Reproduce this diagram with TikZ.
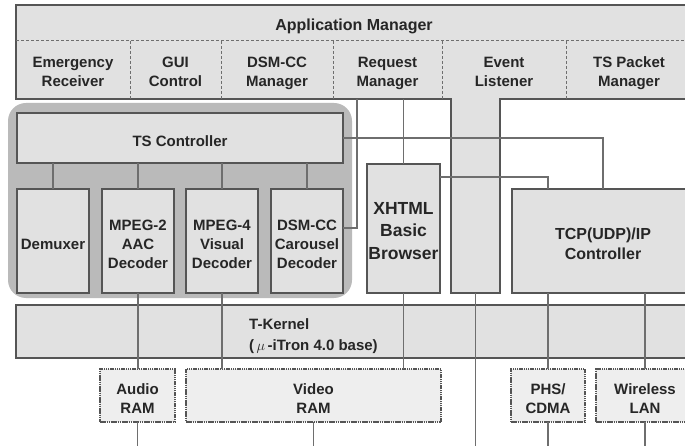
\documentclass[tikz,border=0pt]{standalone}
\usepackage{fontspec}
\setmainfont{Liberation Sans}

\definecolor{panelgray}{HTML}{E1E1E1}
\definecolor{groupgray}{HTML}{BABABA}
\definecolor{ramgray}{HTML}{EEEEEE}
\definecolor{edgegray}{HTML}{555555}
\definecolor{wiregray}{HTML}{6E6E6E}

\newcommand{\boxstrut}{\rule{0pt}{20pt}}

\begin{document}
\begin{tikzpicture}[
    x=1pt, y=-1pt,
    font=\fontsize{15}{19}\selectfont\bfseries,
    lowtext/.style={execute at end node={\vphantom{g}}},
    box/.style={draw=edgegray, line width=1.5pt, fill=panelgray, inner sep=0pt, outer sep=0pt, align=center, text=black!85, lowtext},
    ram/.style={box, fill=ramgray, dash pattern=on 1.5pt off 0.7pt},
    cell/.style={inner sep=0pt, align=center, text=black!85, lowtext},
    divider/.style={draw=wiregray, line width=1pt, dash pattern=on 3pt off 2pt},
    wire/.style={draw=wiregray, line width=1.2pt}
  ]
    \useasboundingbox (0,0) rectangle (685,446);

    \node[fill=groupgray, rounded corners=18pt, minimum width=344, minimum height=195, inner sep=0pt] (tsgroup) at (180,200.5) {};

    \draw[draw=edgegray, line width=1.5pt, fill=panelgray] (16,5) -- (700,5) -- (700,99) -- (500,99) -- (500,293) -- (451,293) -- (451,99) -- (16,99) -- cycle;
    \draw[divider] (16,41) -- (700,41);
    \foreach \x in {130,221,333,442,566}
      \draw[divider] (\x,41) -- (\x,99);

    \node[cell, font=\fontsize{16}{19}\selectfont\bfseries] (appman) at (354,22) {\boxstrut Application Manager};
    \node[cell] (emerg) at (73,69) {\boxstrut Emergency\\Receiver};
    \node[cell] (gui) at (175.5,69) {\boxstrut GUI\\Control};
    \node[cell] (dsmman) at (277,69) {\boxstrut DSM-CC\\Manager};
    \node[cell] (reqman) at (387.5,69) {\boxstrut Request\\Manager};
    \node[cell] (evlist) at (504,69) {\boxstrut Event\\Listener};
    \node[cell] (tspman) at (629,69) {\boxstrut TS Packet\\Manager};

    \node[box, minimum width=326, minimum height=50] (tsctl) at (180,138) {\boxstrut TS Controller};
    \node[box, minimum width=72, minimum height=104] (demux) at (53,241) {\boxstrut Demuxer};
    \node[box, minimum width=72, minimum height=104] (mpeg2) at (138,241) {\boxstrut MPEG-2\\AAC\\Decoder};
    \node[box, minimum width=72, minimum height=104] (mpeg4) at (222,241) {\boxstrut MPEG-4\\Visual\\Decoder};
    \node[box, minimum width=72, minimum height=104] (dsmdec) at (307,241) {\boxstrut DSM-CC\\Carousel\\Decoder};
    \node[box, minimum width=73, minimum height=129, font=\fontsize{17.5}{22.5}\selectfont\bfseries] (xhtml) at (403.5,228.5) {\boxstrut XHTML\\Basic\\Browser};
    \node[box, minimum width=182, minimum height=104, font=\fontsize{16}{20}\selectfont\bfseries] (tcp) at (603,241) {\boxstrut TCP(UDP)/IP\\Controller};

    \node[box, minimum width=684, minimum height=53] (kernel) at (358,331.5) {};

    \node[ram, minimum width=75, minimum height=53] (audio) at (137.5,395.5) {\boxstrut Audio\\RAM};
    \node[ram, minimum width=255, minimum height=53] (video) at (313.5,395.5) {\boxstrut Video\\RAM};
    \node[ram, minimum width=74, minimum height=53] (phs) at (548,395.5) {\boxstrut PHS/\\CDMA};
    \node[ram, minimum width=98, minimum height=53] (wlan) at (645,395.5) {\boxstrut Wireless\\LAN};

    \coordinate (rq1) at (357,99);
    \coordinate (rq2) at (403.5,99);
    \coordinate (evcol) at (475.5,293);
    \coordinate (bot) at (0,446);

    \foreach \d in {demux,mpeg2,mpeg4,dsmdec}
      \draw[wire] (\d.north) -- (\d.north |- tsctl.south);
    \draw[wire] (tsctl.east) -| (tcp.north);
    \draw[wire] (rq1) |- ([yshift=13pt]dsmdec.east);
    \draw[wire] (rq2) -- (xhtml.north);
    \draw[wire] ([yshift=51.5pt]xhtml.east) -| (phs.north |- tcp.north);

    \draw[wire] (mpeg2.south) -- (mpeg2.south |- audio.north);
    \draw[wire] (mpeg4.south) -- (mpeg4.south |- video.north);
    \draw[wire] (xhtml.south) -- (xhtml.south |- video.north);
    \draw[wire] (evcol) -- (evcol |- bot);
    \draw[wire] (phs.north |- tcp.south) -- (phs.north);
    \draw[wire] (wlan.north |- tcp.south) -- (wlan.north);

    \draw[wire] (audio.south) -- (audio.south |- bot);
    \draw[wire] (video.south) -- (video.south |- bot);
    \draw[wire] (phs.south) -- (phs.south |- bot);
    \draw[wire] (wlan.south) -- (wlan.south |- bot);

    \node[anchor=west, align=left, inner sep=0pt, text=black!85, font=\fontsize{15}{21}\selectfont\bfseries] (kerneltxt) at (249,336.5) {T-Kernel\\(\,{\mdseries$\mu$}\,-iTron 4.0 base)};
  \end{tikzpicture}
\end{document}
